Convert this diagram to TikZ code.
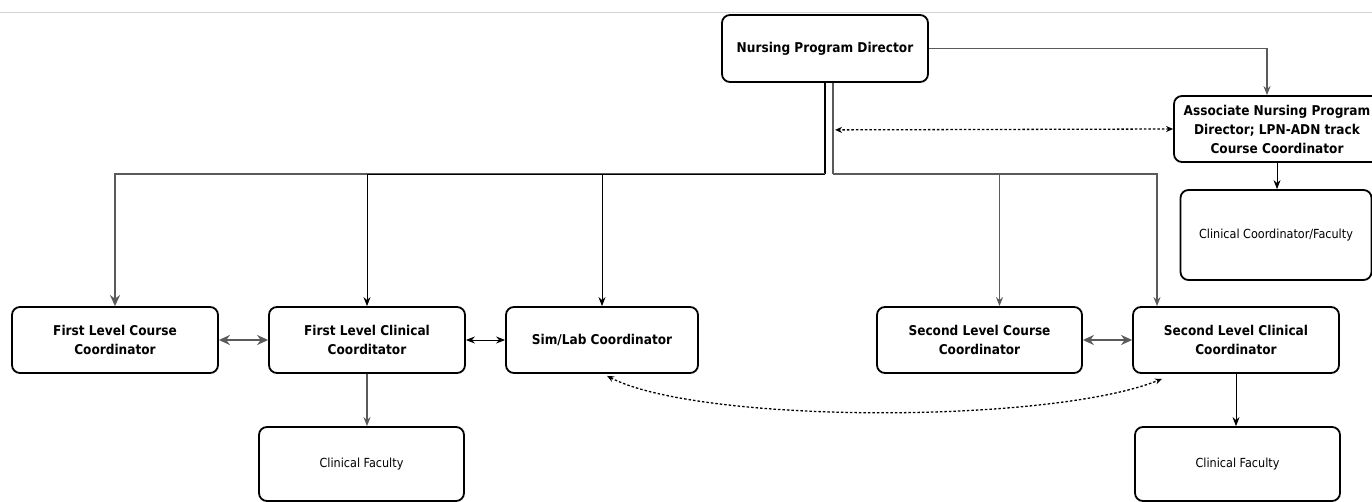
\documentclass[tikz,border=0pt]{standalone}
\usepackage{fontspec}
\setmainfont{DejaVu Sans Condensed}
\usetikzlibrary{calc,arrows.meta}
\definecolor{linegray}{HTML}{5A5A5A}

\tikzset{
  unit/.style={draw, line width=1.8pt, rounded corners=8pt, align=center, inner sep=0pt,
    font=\bfseries\fontsize{13.5}{19}\selectfont},
  faculty/.style={unit, font=\fontsize{12.5}{15}\selectfont},
  thinline/.style={line width=0.9pt},
  grayline/.style={linegray, line width=2.4pt, >={Stealth[length=11pt,width=10pt]}},
  dotline/.style={line width=1.3pt, dash pattern=on 2.5pt off 2pt, >={Stealth[length=7pt,width=6pt]}},
}

\begin{document}
\begin{tikzpicture}[x=1pt,y=-1pt,>={Stealth[length=9pt,width=7pt]}]
\useasboundingbox (0,0) rectangle (1372,502);
\draw[gray!35, line width=1pt] (0,13) -- (1372,13);

\draw node [unit, minimum width=206pt, minimum height=67pt] (director) at (825,48.5) {Nursing Program Director};
\draw node [unit, minimum width=206pt, minimum height=66pt] (assoc) at (1277,129) {Associate Nursing Program\\Director; LPN-ADN track\\Course Coordinator};
\draw node [faculty, minimum width=191pt, minimum height=90pt] (ccfac) at (1276,235) {Clinical Coordinator/Faculty};

\draw node [unit, minimum width=206pt, minimum height=66pt] (flcourse) at (115,340) {First Level Course\\Coordinator};
\draw node [unit, minimum width=196pt, minimum height=66pt] (flclin) at (367,340) {First Level Clinical\\Coorditator};
\draw node [unit, minimum width=192pt, minimum height=66pt] (simlab) at (602,340) {Sim/Lab Coordinator};
\draw node [unit, minimum width=205pt, minimum height=66pt] (slcourse) at (979.5,340) {Second Level Course\\Coordinator};
\draw node [unit, minimum width=206pt, minimum height=66pt] (slclin) at (1236,340) {Second Level Clinical\\Coordinator};

\draw node [faculty, minimum width=205pt, minimum height=74pt] (facone) at (361.5,464) {Clinical Faculty};
\draw node [faculty, minimum width=205pt, minimum height=74pt] (factwo) at (1237.5,464) {Clinical Faculty};

\coordinate (bus) at (825,174);

% director to associate
\draw[->, linegray, line width=1.3pt] (director.east) -| ($ (assoc.north) - (10,0) $);
\draw[<->, dotline] (assoc.west) -- ($ (director.south) + (10,47) $);

% trunk and bus
\draw[line width=2.2pt] (director.south) -- (bus);
\draw[linegray, line width=1.6pt] ($ (director.south) + (8,0) $) -- ($ (bus) + (8,0) $);
\draw[->, grayline] (bus) -| (flcourse.north);
\draw[->, thinline] (bus) -| (flclin.north);
\draw[->, thinline] (bus) -| (simlab.north);
\draw[->, linegray, line width=1.6pt] ($ (bus) + (8,0) $) -| ($ (slcourse.north) + (20,0) $);
\draw[->, linegray, line width=1.3pt] ($ (bus) + (8,0) $) -| ($ (slclin.north) - (79,0) $);

% same level links
\draw[<->, grayline] (flcourse.east) -- (flclin.west);
\draw[<->, thinline] (flclin.east) -- (simlab.west);
\draw[<->, grayline] (slcourse.east) -- (slclin.west);
\draw[<->, dotline] ($ (simlab.south) + (5,2) $) .. controls (700,424) and (1050,424) .. ($ (slclin.south) - (74,-5) $);

% faculty
\draw[->, linegray, line width=1.8pt] (flclin.south) -- (flclin.south |- facone.north);
\draw[->, thinline] (slclin.south) -- (slclin.south |- factwo.north);
\draw[->, thinline] (assoc.south) -- (assoc.south |- ccfac.north);

\end{tikzpicture}
\end{document}
